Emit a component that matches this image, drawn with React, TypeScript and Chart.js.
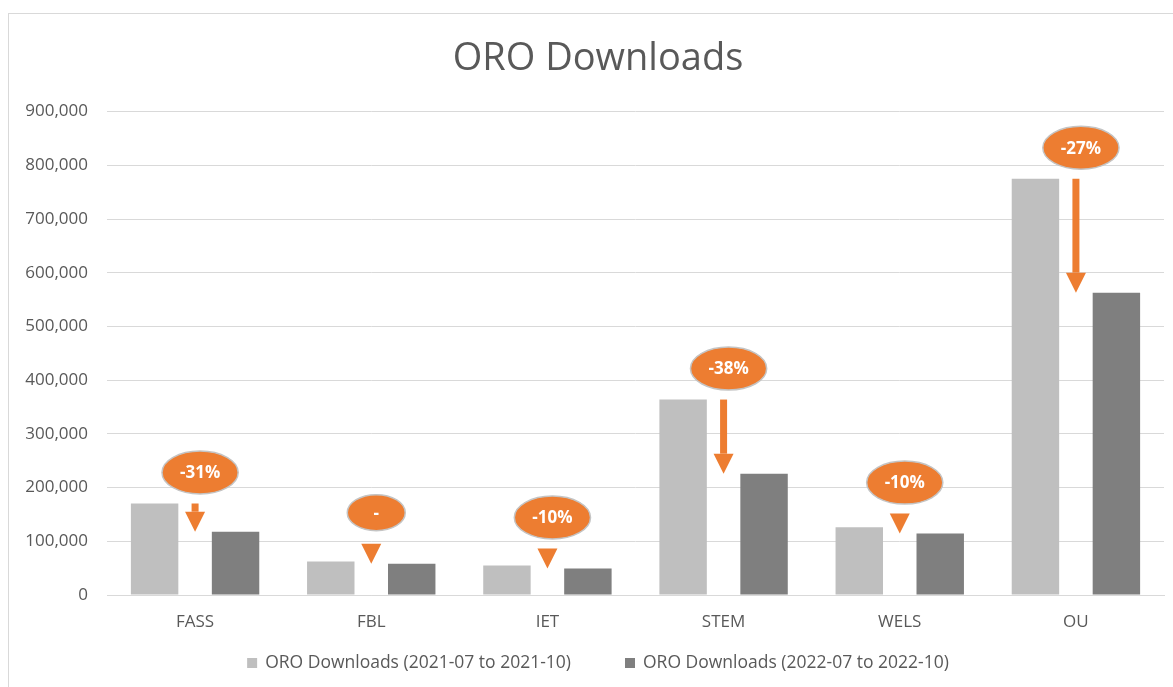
import React, { useEffect, useRef } from 'react';
import { Chart, registerables } from 'chart.js';

Chart.register(...registerables);

const categories = ['FASS', 'FBL', 'IET', 'STEM', 'WELS', 'OU'];
const downloads2021 = [170500, 62500, 55000, 364000, 126500, 775000];
const downloads2022 = [118000, 58500, 49500, 226000, 114500, 563000];
const changeLabels = ['-31%', '-', '-10%', '-38%', '-10%', '-27%'];
const seriesLabels = ['ORO Downloads (2021-07 to 2021-10)', 'ORO Downloads (2022-07 to 2022-10)'];
const seriesColors = ['#BFBFBF', '#7F7F7F'];
const yMax = 900000;
const yStep = 100000;

const FONT = "'Open Sans', sans-serif";
const TEXT = '#595959';
const GRID = '#D9D9D9';
const ORANGE = '#ED7D31';

const changePlugin = {
  id: 'changeMarkers',
  afterDatasetsDraw(chart: any) {
    const { ctx, scales } = chart;
    const x = scales.x;
    const y = scales.y;
    ctx.save();
    categories.forEach((_, i) => {
      const xc = x.getPixelForValue(i);
      const yA = y.getPixelForValue(downloads2021[i]);
      const yB = y.getPixelForValue(downloads2022[i]);
      const headH = 20;
      const headW = 20;
      const shaftW = 7;
      const headTop = yB - headH;
      ctx.fillStyle = ORANGE;
      if (headTop > yA) ctx.fillRect(xc - shaftW / 2, yA, shaftW, headTop - yA);
      ctx.beginPath();
      ctx.moveTo(xc - headW / 2, headTop);
      ctx.lineTo(xc + headW / 2, headTop);
      ctx.lineTo(xc, yB);
      ctx.closePath();
      ctx.fill();

      const label = changeLabels[i];
      ctx.font = `bold 17px ${FONT}`;
      const tw = ctx.measureText(label).width;
      const rx = Math.max(29, (tw + 36) / 2);
      const ry = Math.min(21.5, rx * 0.62);
      const cx = xc + 5;
      const cy = Math.min(yA, headTop) - 31;
      ctx.beginPath();
      ctx.ellipse(cx, cy, rx, ry, 0, 0, Math.PI * 2);
      ctx.fillStyle = ORANGE;
      ctx.fill();
      ctx.lineWidth = 1.5;
      ctx.strokeStyle = '#C4C4C4';
      ctx.stroke();
      ctx.fillStyle = '#FFFFFF';
      ctx.textAlign = 'center';
      ctx.textBaseline = 'middle';
      ctx.fillText(label, cx, cy + 1);
    });
    ctx.restore();
  },
};

const legendPlugin = {
  id: 'bottomLegend',
  afterLayout(chart: any) {
    // centre the title on the whole frame rather than the padded area
    if (chart.titleBlock) {
      chart.titleBlock.left = 0;
      chart.titleBlock.right = chart.width - 2;
    }
  },
  afterDraw(chart: any) {
    const { ctx } = chart;
    ctx.save();
    ctx.font = `17.5px ${FONT}`;
    const box = 10;
    const boxGap = 8;
    const itemGap = 54;
    const widths = seriesLabels.map((t) => box + boxGap + ctx.measureText(t).width);
    const total = widths.reduce((a, b) => a + b, 0) + itemGap * (widths.length - 1);
    let xPos = (chart.width - 2) / 2 - total / 2;
    const yc = 649;
    seriesLabels.forEach((t, i) => {
      ctx.fillStyle = seriesColors[i];
      ctx.fillRect(xPos, yc - box / 2, box, box);
      ctx.fillStyle = TEXT;
      ctx.textAlign = 'left';
      ctx.textBaseline = 'middle';
      ctx.fillText(t, xPos + box + boxGap, yc);
      xPos += widths[i] + itemGap;
    });
    ctx.restore();
  },
};

export default function App() {
  const ref = useRef<HTMLCanvasElement>(null);

  useEffect(() => {
    if (!ref.current) return;
    const chart = new Chart(ref.current, {
      type: 'bar',
      data: {
        labels: categories,
        datasets: [
          {
            label: seriesLabels[0],
            data: downloads2021,
            backgroundColor: seriesColors[0],
            categoryPercentage: 0.919,
            barPercentage: 0.586,
          },
          {
            label: seriesLabels[1],
            data: downloads2022,
            backgroundColor: seriesColors[1],
            categoryPercentage: 0.919,
            barPercentage: 0.586,
          },
        ],
      },
      options: {
        responsive: false,
        animation: false,
        layout: { padding: { left: 0, right: 25, top: 0, bottom: 37.5 } },
        plugins: {
          title: {
            display: true,
            text: 'ORO Downloads',
            color: TEXT,
            font: { family: FONT, size: 38, weight: 'normal' },
            padding: { top: 22, bottom: 30 },
          },
          legend: { display: false },
          tooltip: { enabled: false },
        },
        scales: {
          x: {
            grid: { display: false, drawTicks: false },
            border: { display: true, color: GRID },
            ticks: { color: TEXT, font: { family: FONT, size: 17 }, padding: 17 },
          },
          y: {
            min: 0,
            max: yMax,
            ticks: { stepSize: yStep, color: TEXT, font: { family: FONT, size: 17 }, padding: 19 },
            grid: { color: GRID, drawTicks: false },
            border: { display: false },
            afterFit: (s: any) => {
              s.width = 98;
            },
          },
        },
      },
      plugins: [changePlugin, legendPlugin],
    });
    return () => chart.destroy();
  }, []);

  return (
    <div
      style={{
        position: 'fixed',
        left: 8,
        top: 13,
        width: 1180,
        height: 673,
        borderLeft: `1px solid ${GRID}`,
        borderTop: `1px solid ${GRID}`,
        background: '#fff',
      }}
    >
      <canvas ref={ref} width={1180} height={673} style={{ display: 'block' }} />
    </div>
  );
}
